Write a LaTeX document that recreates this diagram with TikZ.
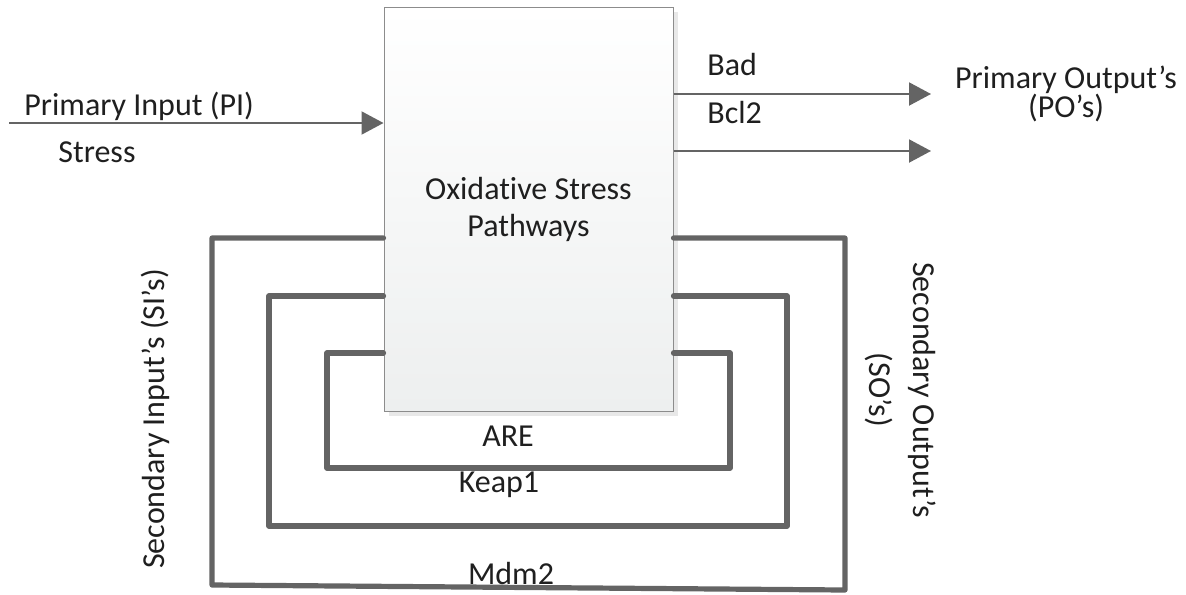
\documentclass[tikz,border=0pt]{standalone}
\usepackage{fontspec}
\setmainfont{Carlito}[Ligatures=NoCommon]
\usetikzlibrary{arrows.meta, shadows}
\definecolor{linegray}{HTML}{646464}
\definecolor{boxedge}{HTML}{8C8C8C}
\definecolor{boxbottom}{HTML}{EDEFEF}
\begin{document}
\begin{tikzpicture}[x=0.5pt, y=-0.5pt,
    box/.style={rectangle, draw=boxedge, line width=0.5pt,
        top color=white, bottom color=boxbottom,
        minimum width=144.5pt, minimum height=202pt, inner sep=0pt,
        align=center, text=black!88, font={\fontsize{16pt}{18.5pt}\selectfont},
        drop shadow={shadow xshift=2.5pt, shadow yshift=-2.5pt, fill=black!9, opacity=1}},
    arr/.style={-{Triangle[length=11pt, width=11.5pt]}, color=linegray, line width=1pt},
    fb/.style={draw=linegray, line width=2.6pt, line cap=round, line join=round},
    lbl/.style={inner sep=0pt, text=black!88, font={\fontsize{16pt}{19pt}\selectfont}}
]
\useasboundingbox (0,0) rectangle (1186,594);

\node[box] (osp) at (528.5,209) {Oxidative Stress\\Pathways};

% primary signals
\coordinate (pi) at (9,123);
\coordinate (bad) at (931,94);
\coordinate (bcl) at (931,151);
\draw[arr] (pi) -- (pi -| osp.west);
\draw[arr] (bad -| osp.east) -- (bad);
\draw[arr] (bcl -| osp.east) -- (bcl);

% feedback loops
\coordinate (mdm) at (0,238);
\coordinate (keap) at (0,296);
\coordinate (are) at (0,353);
\draw[fb] (osp.west |- mdm) -| (212,585) -- (845,590) |- (osp.east |- mdm);
\draw[fb] (osp.west |- keap) -| (269,526) -| (787,296) -- (osp.east |- keap);
\draw[fb] (osp.west |- are) -| (327,468) -| (730,353) -- (osp.east |- are);

% labels
\node[lbl, anchor=base west] (pilbl) at (24,115) {Primary Input (PI)};
\node[lbl, anchor=base west] (stress) at (58,162) {Stress};
\node[lbl, anchor=base west] (badlbl) at (707,75) {Bad};
\node[lbl, anchor=base west] (bcllbl) at (707,123) {Bcl2};
\node[lbl, align=center, font={\fontsize{16pt}{14.5pt}\selectfont\lineskiplimit=-20pt}] (po) at (1066,94) {Primary Output’s\\(PO’s)};
\node[lbl, anchor=base] (arelbl) at (508,446) {ARE};
\node[lbl, anchor=base] (keaplbl) at (499,492) {Keap1};
\node[lbl, anchor=base] (mdmlbl) at (511,584) {Mdm2};
\node[lbl, rotate=90] (si) at (155,419) {Secondary Input’s (SI’s)};
\node[lbl, rotate=-90, align=center, font={\fontsize{16pt}{22pt}\selectfont}] (so) at (901,390) {Secondary Output’s\\(SO’s)};
\end{tikzpicture}
\end{document}
